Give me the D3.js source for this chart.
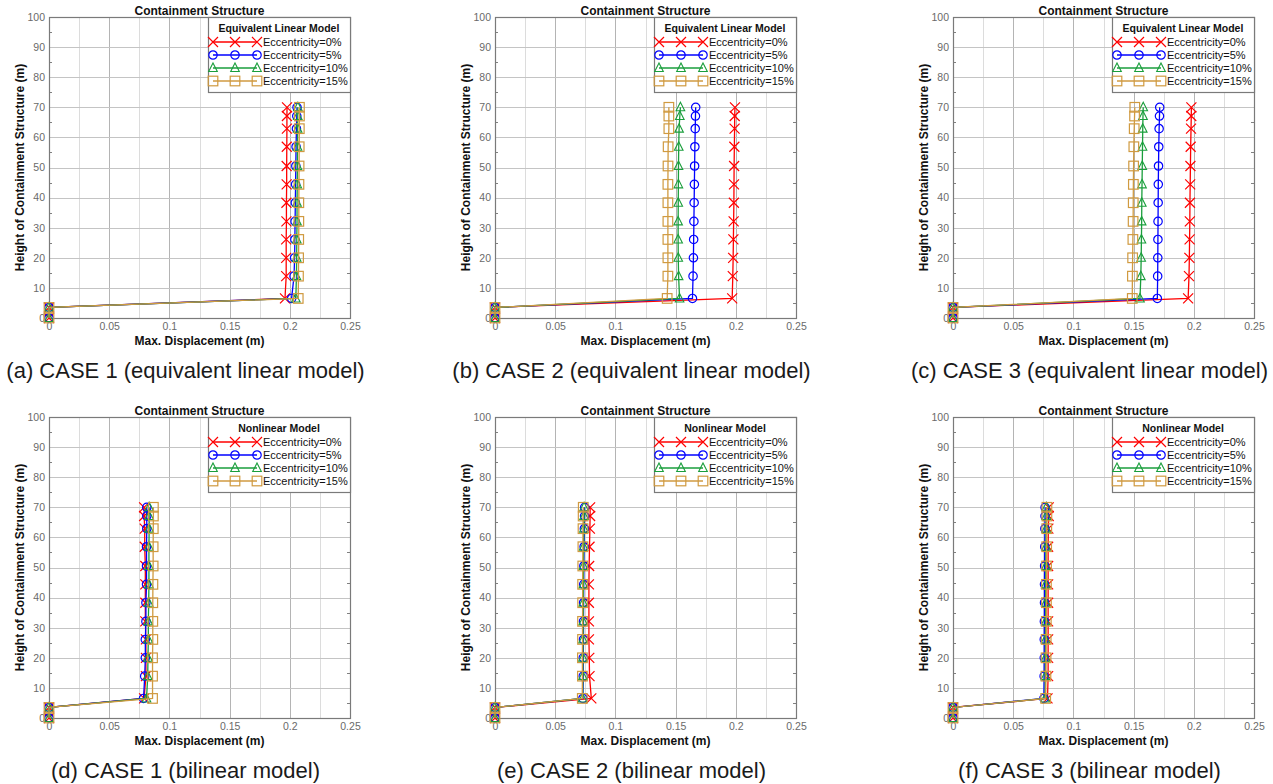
<!DOCTYPE html>
<html>
<head>
<meta charset="utf-8">
<script src="https://cdn.jsdelivr.net/npm/d3@7/dist/d3.min.js"></script>
<style>
  body { margin: 0; background: #fff; }
  svg { display: block; font-family: Arial, "Liberation Sans", sans-serif; }
</style>
</head>
<body>
<svg id="chart" width="1273" height="784"></svg>
<script>
// node heights (m), shared by every series
const heights = [0, 3.5, 6.5, 13.9, 20, 26.1, 32.1, 38.3, 44.4, 50.5, 56.9, 62.9, 67.1, 70];

const seriesNames = ['Eccentricity=0%', 'Eccentricity=5%', 'Eccentricity=10%', 'Eccentricity=15%'];
const seriesColors = ['#ff0000', '#0000ff', '#1a9e3c', '#d09a40'];
const seriesMarkers = ['x', 'circle', 'triangle', 'square'];

const xTicks = [0, 0.05, 0.1, 0.15, 0.2, 0.25];
const yTicks = [0, 10, 20, 30, 40, 50, 60, 70, 80, 90, 100];

// max displacement (m) per panel, one row per eccentricity
const case1Linear = [
  [0, 0, 0.196, 0.197, 0.197, 0.197, 0.1972, 0.1972, 0.1974, 0.1974, 0.1975, 0.1976, 0.1976, 0.1977],
  [0, 0, 0.2015, 0.2035, 0.204, 0.2042, 0.2044, 0.2046, 0.2048, 0.205, 0.2052, 0.2055, 0.2058, 0.206],
  [0, 0, 0.205, 0.2055, 0.2057, 0.2058, 0.206, 0.206, 0.2062, 0.2063, 0.2064, 0.2065, 0.2066, 0.2067],
  [0, 0, 0.207, 0.2072, 0.2073, 0.2074, 0.2075, 0.2075, 0.2076, 0.2077, 0.2078, 0.2079, 0.208, 0.208]
];
const case2Linear = [
  [0, 0, 0.197, 0.1975, 0.1978, 0.198, 0.1982, 0.1984, 0.1985, 0.1986, 0.1988, 0.199, 0.1991, 0.1993],
  [0, 0, 0.164, 0.1645, 0.1648, 0.165, 0.1652, 0.1654, 0.1656, 0.1658, 0.166, 0.1663, 0.1665, 0.1667],
  [0, 0, 0.1533, 0.1525, 0.1522, 0.1521, 0.1521, 0.1522, 0.1523, 0.1524, 0.1526, 0.1529, 0.1535, 0.154],
  [0, 0, 0.143, 0.1436, 0.1436, 0.1436, 0.1436, 0.1436, 0.1436, 0.1437, 0.1438, 0.1444, 0.1444, 0.1444]
];
const case3Linear = [
  [0, 0, 0.1953, 0.196, 0.1963, 0.1965, 0.1967, 0.1968, 0.197, 0.1972, 0.1974, 0.1977, 0.1979, 0.198],
  [0, 0, 0.1697, 0.17, 0.1701, 0.1702, 0.1703, 0.1704, 0.1705, 0.1707, 0.1709, 0.1712, 0.1715, 0.1717],
  [0, 0, 0.1553, 0.156, 0.1563, 0.1565, 0.1567, 0.1568, 0.157, 0.1572, 0.1574, 0.1576, 0.1578, 0.158],
  [0, 0, 0.1489, 0.149, 0.1492, 0.1494, 0.1496, 0.1497, 0.1498, 0.15, 0.1502, 0.1505, 0.1508, 0.151]
];
const case1Bilinear = [
  [0, 0, 0.079, 0.0805, 0.0805, 0.0805, 0.08, 0.08, 0.08, 0.08, 0.0795, 0.0795, 0.079, 0.079],
  [0, 0, 0.0785, 0.0795, 0.08, 0.08, 0.0805, 0.0805, 0.081, 0.081, 0.081, 0.0812, 0.0812, 0.0812],
  [0, 0, 0.081, 0.082, 0.0822, 0.0825, 0.0825, 0.0828, 0.083, 0.083, 0.083, 0.0832, 0.0832, 0.0832],
  [0, 0, 0.086, 0.086, 0.086, 0.0862, 0.0862, 0.0862, 0.0863, 0.0865, 0.0865, 0.0866, 0.0867, 0.0867]
];
const case2Bilinear = [
  [0, 0, 0.08, 0.0785, 0.0783, 0.078, 0.078, 0.078, 0.078, 0.0782, 0.0785, 0.0788, 0.079, 0.079],
  [0, 0, 0.073, 0.0733, 0.0733, 0.0735, 0.0735, 0.0736, 0.0737, 0.0738, 0.074, 0.0742, 0.0744, 0.0745],
  [0, 0, 0.0728, 0.073, 0.073, 0.0731, 0.0732, 0.0733, 0.0734, 0.0735, 0.0736, 0.0738, 0.074, 0.074],
  [0, 0, 0.0725, 0.0726, 0.0726, 0.0727, 0.0727, 0.0728, 0.0728, 0.0729, 0.073, 0.0731, 0.0732, 0.0733]
];
const case3Bilinear = [
  [0, 0, 0.0785, 0.079, 0.079, 0.079, 0.079, 0.079, 0.079, 0.079, 0.079, 0.0792, 0.0795, 0.0795],
  [0, 0, 0.0755, 0.0757, 0.0758, 0.0758, 0.0759, 0.076, 0.076, 0.0761, 0.0762, 0.0763, 0.0764, 0.0765],
  [0, 0, 0.0765, 0.0767, 0.0768, 0.0768, 0.0769, 0.077, 0.077, 0.0771, 0.0772, 0.0773, 0.0774, 0.0775],
  [0, 0, 0.077, 0.0772, 0.0773, 0.0774, 0.0775, 0.0776, 0.0776, 0.0777, 0.0778, 0.0779, 0.078, 0.078]
];

const panels = [
  { data: case1Linear, legendTitle: 'Equivalent Linear Model', caption: '(a) CASE 1 (equivalent linear model)', col: 0, row: 0 },
  { data: case2Linear, legendTitle: 'Equivalent Linear Model', caption: '(b) CASE 2 (equivalent linear model)', col: 1, row: 0 },
  { data: case3Linear, legendTitle: 'Equivalent Linear Model', caption: '(c) CASE 3 (equivalent linear model)', col: 2, row: 0 },
  { data: case1Bilinear, legendTitle: 'Nonlinear Model', caption: '(d) CASE 1 (bilinear model)', col: 0, row: 1 },
  { data: case2Bilinear, legendTitle: 'Nonlinear Model', caption: '(e) CASE 2 (bilinear model)', col: 1, row: 1 },
  { data: case3Bilinear, legendTitle: 'Nonlinear Model', caption: '(f) CASE 3 (bilinear model)', col: 2, row: 1 }
];

const colLeft = [49, 495, 953];
const rowTop = [17, 417];
const W = 301, H = 301;

const svg = d3.select('#chart');

// marker shapes, drawn centred on 0,0
function drawMarker(g, type, color) {
  if (type === 'x') {
    g.append('path').attr('d', 'M-5,-5L5,5M-5,5L5,-5')
      .attr('stroke', color).attr('stroke-width', 1.2).attr('fill', 'none');
  } else if (type === 'circle') {
    g.append('circle').attr('r', 4.2)
      .attr('stroke', color).attr('stroke-width', 1.2).attr('fill', 'none');
  } else if (type === 'triangle') {
    g.append('path').attr('d', 'M0,-5L4.3,3.5L-4.3,3.5Z')
      .attr('stroke', color).attr('stroke-width', 1.1).attr('fill', 'none');
  } else {
    g.append('rect').attr('x', -4.8).attr('y', -4.8).attr('width', 9.6).attr('height', 9.6)
      .attr('stroke', color).attr('stroke-width', 1.2).attr('fill', 'none');
  }
}

panels.forEach(p => {
  const left = colLeft[p.col], top = rowTop[p.row];
  const x = d3.scaleLinear().domain([0, 0.25]).range([left, left + W]);
  const y = d3.scaleLinear().domain([0, 100]).range([top + H, top]);
  const g = svg.append('g');

  // grid: vertical every 0.025, horizontal every 10
  g.append('g').selectAll('line')
    .data(d3.range(1, 10).map(i => i * 0.025))
    .join('line')
    .attr('x1', d => Math.round(x(d)) + 0.5).attr('x2', d => Math.round(x(d)) + 0.5)
    .attr('y1', top).attr('y2', top + H)
    .attr('stroke', (d, i) => i % 2 === 0 ? '#dcdcdc' : '#b4b4b4')
    .attr('stroke-width', 1);
  g.append('g').selectAll('line')
    .data(yTicks.slice(1, -1))
    .join('line')
    .attr('x1', left).attr('x2', left + W)
    .attr('y1', d => Math.round(y(d)) + 0.5).attr('y2', d => Math.round(y(d)) + 0.5)
    .attr('stroke', '#c4c4c4').attr('stroke-width', 1);

  // minor tick marks on left and right frame
  g.append('g').selectAll('line')
    .data(d3.range(5, 100, 10))
    .join('line')
    .attr('x1', left).attr('x2', left + 3)
    .attr('y1', d => Math.round(y(d)) + 0.5).attr('y2', d => Math.round(y(d)) + 0.5)
    .attr('stroke', '#808080');
  g.append('g').selectAll('line')
    .data(d3.range(5, 100, 10))
    .join('line')
    .attr('x1', left + W - 3).attr('x2', left + W)
    .attr('y1', d => Math.round(y(d)) + 0.5).attr('y2', d => Math.round(y(d)) + 0.5)
    .attr('stroke', '#808080');

  // frame
  g.append('rect')
    .attr('x', left + 0.5).attr('y', top + 0.5).attr('width', W).attr('height', H)
    .attr('fill', 'none').attr('stroke', '#7a7a7a').attr('stroke-width', 1.2);

  // axes (labels only, frame already drawn)
  const xAxis = g.append('g').attr('transform', `translate(0,${top + H})`)
    .call(d3.axisBottom(x).tickValues(xTicks).tickFormat(d3.format('~g')).tickSize(0).tickPadding(5));
  const yAxis = g.append('g').attr('transform', `translate(${left},0)`)
    .call(d3.axisLeft(y).tickValues(yTicks).tickSize(0).tickPadding(4));
  [xAxis, yAxis].forEach(a => {
    a.select('.domain').remove();
    a.selectAll('text').attr('fill', '#6a6a6a').attr('font-size', 10.5)
      .attr('font-family', 'Arial, "Liberation Sans", sans-serif');
  });

  // series lines and markers
  p.data.forEach((vals, si) => {
    const pts = vals.map((v, i) => [v, heights[i]]);
    const line = d3.line().x(d => x(d[0])).y(d => y(d[1]));
    g.append('path').datum(pts)
      .attr('d', line)
      .attr('fill', 'none')
      .attr('stroke', seriesColors[si])
      .attr('stroke-width', 1.3);
    pts.forEach(d => {
      const m = g.append('g').attr('transform', `translate(${x(d[0])},${y(d[1])})`);
      drawMarker(m, seriesMarkers[si], seriesColors[si]);
    });
  });

  // titles
  const cx = left + W / 2;
  g.append('text').attr('x', cx).attr('y', top - 2)
    .attr('text-anchor', 'middle').attr('font-size', 12).attr('font-weight', 'bold')
    .attr('fill', '#111').text('Containment Structure');
  g.append('text').attr('x', cx).attr('y', top + H + 27)
    .attr('text-anchor', 'middle').attr('font-size', 12).attr('font-weight', 'bold')
    .attr('fill', '#111').text('Max. Displacement (m)');
  g.append('text')
    .attr('transform', `translate(${left - 25},${top + H / 2}) rotate(-90)`)
    .attr('text-anchor', 'middle').attr('font-size', 12).attr('font-weight', 'bold')
    .attr('fill', '#111').text('Height of Containment Structure (m)');
  g.append('text').attr('x', cx - 14).attr('y', top + H + 60)
    .attr('text-anchor', 'middle').attr('font-size', 22)
    .attr('fill', '#1a1a1a').text(p.caption);

  // legend
  const lw = 142, lh = 75;
  const lx = left + W - lw, ly = top;
  const leg = g.append('g');
  leg.append('rect')
    .attr('x', lx + 0.5).attr('y', ly + 0.5).attr('width', lw).attr('height', lh)
    .attr('fill', '#fff').attr('stroke', '#7a7a7a').attr('stroke-width', 1.2);
  leg.append('text').attr('x', lx + lw / 2).attr('y', ly + 15)
    .attr('text-anchor', 'middle').attr('font-size', 10.5).attr('font-weight', 'bold')
    .attr('fill', '#111').text(p.legendTitle);
  seriesNames.forEach((name, si) => {
    const ry = ly + 25 + si * 13;
    leg.append('line').attr('x1', lx + 5).attr('x2', lx + 49)
      .attr('y1', ry).attr('y2', ry)
      .attr('stroke', seriesColors[si]).attr('stroke-width', 1.3);
    [5, 27, 49].forEach(dx => {
      const m = leg.append('g').attr('transform', `translate(${lx + dx},${ry})`);
      drawMarker(m, seriesMarkers[si], seriesColors[si]);
    });
    leg.append('text').attr('x', lx + 55).attr('y', ry + 4)
      .attr('font-size', 11).attr('fill', '#111').text(name);
  });
});
</script>
</body>
</html>
